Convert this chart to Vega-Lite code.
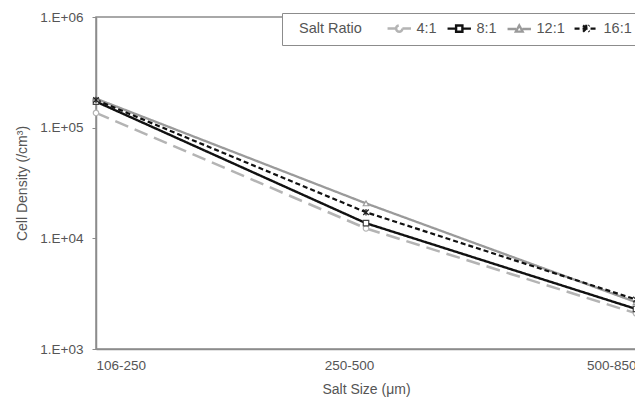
{
  "$schema": "https://vega.github.io/schema/vega-lite/v6.json",
  "width": 540,
  "height": 332,
  "autosize": {"type": "none"},
  "padding": {"left": 96, "top": 17, "right": 0, "bottom": 54},
  "background": "white",
  "config": {
    "font": "Liberation Sans",
    "view": {"stroke": "#8c8c8c", "strokeWidth": 1.5},
    "legend": {
      "orient": "top-right",
      "offset": -4,
      "direction": "horizontal",
      "titleOrient": "left",
      "titleFontSize": 14.5,
      "titleFontWeight": "normal",
      "titleColor": "#555",
      "titlePadding": 39,
      "labelFontSize": 14.5,
      "labelColor": "#555",
      "labelOffset": 10,
      "columnPadding": 5,
      "symbolSize": 100,
      "padding": 8,
      "fillColor": "white",
      "strokeColor": "#8c8c8c",
      "cornerRadius": 0
    }
  },
  "data": {
    "values": [
      {"size": "106-250", "ratio": "4:1", "density": 136000},
      {"size": "250-500", "ratio": "4:1", "density": 12300},
      {"size": "500-850", "ratio": "4:1", "density": 2100},
      {"size": "106-250", "ratio": "8:1", "density": 172000},
      {"size": "250-500", "ratio": "8:1", "density": 13700},
      {"size": "500-850", "ratio": "8:1", "density": 2300},
      {"size": "106-250", "ratio": "12:1", "density": 183000},
      {"size": "250-500", "ratio": "12:1", "density": 20700},
      {"size": "500-850", "ratio": "12:1", "density": 2650},
      {"size": "106-250", "ratio": "16:1", "density": 178000},
      {"size": "250-500", "ratio": "16:1", "density": 17200},
      {"size": "500-850", "ratio": "16:1", "density": 2800}
    ]
  },
  "encoding": {
    "x": {
      "field": "size",
      "type": "ordinal",
      "sort": ["106-250", "250-500", "500-850"],
      "scale": {"type": "point", "padding": 0},
      "axis": {
        "title": "Salt Size (\u03bcm)",
        "titleFontSize": 14,
        "titleFontWeight": "normal",
        "titleColor": "#555",
        "titlePadding": 11,
        "labelAngle": 0,
        "labelFontSize": 13.5,
        "labelColor": "#555",
        "labelPadding": 9,
        "labelFlush": true,
        "labelOffset": {"condition": {"test": "datum.value == '250-500'", "value": -17}, "value": 0},
        "ticks": false,
        "domainColor": "#8c8c8c",
        "domainWidth": 1.5,
        "grid": false
      }
    },
    "y": {
      "field": "density",
      "type": "quantitative",
      "scale": {"type": "log", "domain": [1000, 1000000]},
      "axis": {
        "title": "Cell Density (/cm\u00b3)",
        "titleFontSize": 14,
        "titleFontWeight": "normal",
        "titleColor": "#555",
        "titlePadding": 10,
        "values": [1000, 10000, 100000, 1000000],
        "labelExpr": "'1.E+0' + round(log(datum.value)/LN10)",
        "labelFontSize": 13.5,
        "labelColor": "#555",
        "labelPadding": 9,
        "tickSize": 4,
        "tickColor": "#8c8c8c",
        "domainColor": "#8c8c8c",
        "domainWidth": 1.5,
        "grid": false
      }
    }
  },
  "layer": [
    {
      "mark": {"type": "line"},
      "encoding": {
        "color": {
          "field": "ratio",
          "type": "nominal",
          "sort": ["4:1", "8:1", "12:1", "16:1"],
          "scale": {"domain": ["4:1", "8:1", "12:1", "16:1"], "range": ["#b4b4b4", "#111111", "#9a9a9a", "#111111"]},
          "legend": {
            "title": "Salt Ratio",
            "encode": {
              "title": {"update": {"dx": {"value": 9}}},
              "symbols": {
                "update": {
                  "shape": {"signal": "datum.value == '4:1' ? 'M-2.34,0H-0.63M0.63,0H2.34M0.63,0A0.63,0.63 0 1,1 -0.63,0A0.63,0.63 0 1,1 0.63,0' : datum.value == '8:1' ? 'M-2.34,0H-0.63M0.63,0H2.34M-0.63,-0.63H0.63V0.63H-0.63Z' : datum.value == '12:1' ? 'M-2.34,0H-0.63M0.63,0H2.34M0,-0.72L0.68,0.54H-0.68Z' : 'M-2.34,0H2.34M-0.63,-0.63L0.63,0.63M-0.63,0.63L0.63,-0.63M0,-0.76V0.76'"},
                  "fill": {"value": "white"}
                }
              }
            }
          }
        },
        "strokeDash": {
          "field": "ratio",
          "type": "nominal",
          "sort": ["4:1", "8:1", "12:1", "16:1"],
          "scale": {"domain": ["4:1", "8:1", "12:1", "16:1"], "range": [[14, 7], [1, 0], [1, 0], [5, 3]]},
          "legend": {"title": "Salt Ratio"}
        },
        "strokeWidth": {
          "field": "ratio",
          "type": "nominal",
          "sort": ["4:1", "8:1", "12:1", "16:1"],
          "scale": {"domain": ["4:1", "8:1", "12:1", "16:1"], "range": [2.5, 2.2, 2.2, 2.2]},
          "legend": {"title": "Salt Ratio"}
        }
      }
    },
    {
      "transform": [{"filter": "datum.ratio == '4:1'"}],
      "mark": {"type": "point", "shape": "circle", "fill": "white", "stroke": "#b4b4b4", "strokeWidth": 1.2, "size": 30, "opacity": 1}
    },
    {
      "transform": [{"filter": "datum.ratio == '8:1'"}],
      "mark": {"type": "point", "shape": "square", "fill": "white", "stroke": "#444444", "strokeWidth": 1.2, "size": 30, "opacity": 1}
    },
    {
      "transform": [{"filter": "datum.ratio == '12:1'"}],
      "mark": {"type": "point", "shape": "triangle-up", "fill": "white", "stroke": "#9a9a9a", "strokeWidth": 1.2, "size": 30, "opacity": 1}
    },
    {
      "transform": [{"filter": "datum.ratio == '16:1'"}],
      "mark": {"type": "point", "shape": "M-1,-1L1,1M-1,1L1,-1M0,-1.2V1.2", "fill": "white", "stroke": "#222222", "strokeWidth": 1.2, "size": 30, "opacity": 1}
    }
  ]
}
